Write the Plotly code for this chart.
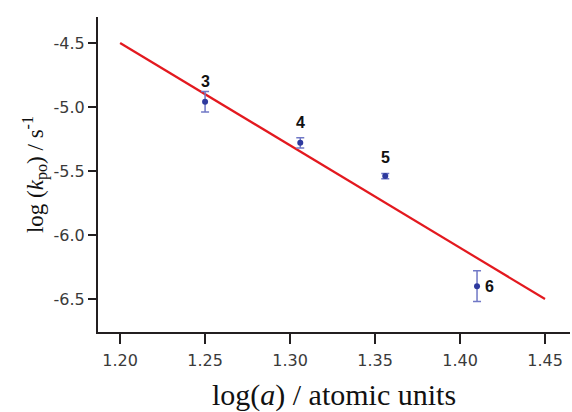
import plotly.graph_objects as go

# Measured data: log of atomic unit distance vs log rate constant
compounds = ["3", "4", "5", "6"]
log_a = [1.250, 1.306, 1.356, 1.410]
log_kpo = [-4.96, -5.28, -5.54, -6.40]
log_kpo_err = [0.08, 0.04, 0.02, 0.12]

# Linear fit line endpoints
fit_x = [1.20, 1.45]
fit_y = [-4.50, -6.50]

x_ticks = [1.20, 1.25, 1.30, 1.35, 1.40, 1.45]
y_ticks = [-4.5, -5.0, -5.5, -6.0, -6.5]

axis_col = "#231f20"
tick_font = dict(family="DejaVu Sans", size=16, color="#3a3a3a")

fig = go.Figure()

fig.add_trace(go.Scatter(
    x=fit_x, y=fit_y, mode="lines",
    line=dict(color="#e3191f", width=2.2),
    showlegend=False, hoverinfo="skip",
))

fig.add_trace(go.Scatter(
    x=log_a, y=log_kpo, mode="markers",
    marker=dict(color="#2e3a9e", size=6),
    error_y=dict(type="data", array=log_kpo_err, visible=True,
                 color="#7078c6", thickness=1.5, width=4),
    showlegend=False,
))

# Compound number labels
label_shift = [(0, 20), (0, 20), (0, 19), (12, 0)]
for name, xv, yv, (dx, dy) in zip(compounds, log_a, log_kpo, label_shift):
    fig.add_annotation(
        x=xv, y=yv, text=f"<b>{name}</b>", showarrow=False,
        xshift=dx, yshift=dy,
        font=dict(family="Liberation Sans", size=16, color="#111111"),
    )

fig.update_xaxes(
    range=[1.187, 1.4647],
    tickvals=x_ticks, ticktext=[f"{v:.2f}" for v in x_ticks],
    showgrid=False, zeroline=False,
    showline=True, linecolor=axis_col, linewidth=2,
    ticks="outside", ticklen=10, tickwidth=2, tickcolor=axis_col,
    tickfont=tick_font, ticklabelstandoff=3,
    title=dict(text="log(<i>a</i>) / atomic units",
               font=dict(family="Liberation Serif", size=30, color="#111111"),
               standoff=15),
)
fig.update_yaxes(
    range=[-6.758, -4.297],
    tickvals=y_ticks, ticktext=[f"{v:.1f}" for v in y_ticks],
    showgrid=False, zeroline=False,
    showline=True, linecolor=axis_col, linewidth=2,
    ticks="outside", ticklen=8, tickwidth=2, tickcolor=axis_col,
    tickfont=tick_font,
    title=dict(text="log (<i>k</i><sub>po</sub>) / s<sup>-1</sup>",
               font=dict(family="Liberation Serif", size=23, color="#111111"),
               standoff=4),
)

fig.update_layout(
    width=572, height=412,
    margin=dict(l=98, r=2, t=17, b=80),
    paper_bgcolor="white", plot_bgcolor="white",
)

fig.write_html("out.html")
